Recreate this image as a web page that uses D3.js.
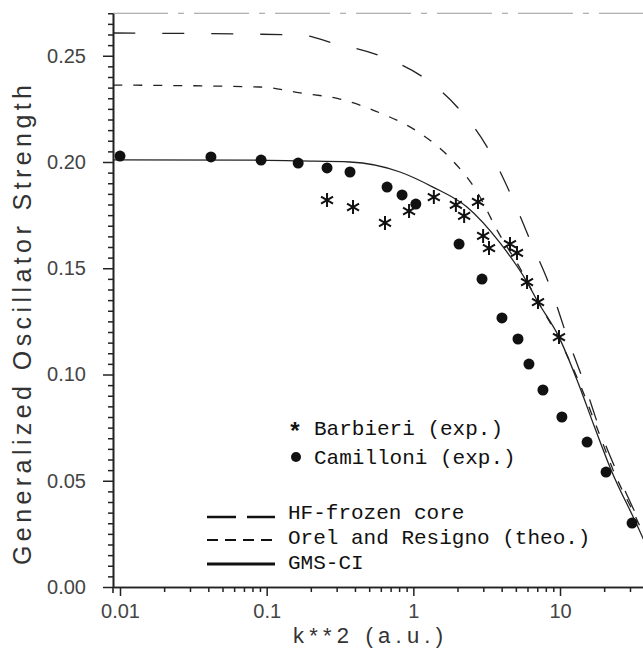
<!DOCTYPE html>
<html>
<head>
<meta charset="utf-8">
<script src="https://cdn.jsdelivr.net/npm/d3@7"></script>
<style>
  body { margin: 0; background: #fff; }
  svg { display: block; }
</style>
</head>
<body>
<div id="chart"></div>
<script>
// Camilloni (exp.) points
const kCamilloni = [0.01, 0.0417, 0.0916, 0.164, 0.258, 0.37, 0.662, 0.838, 1.04, 2.05, 2.94, 4.02, 5.17, 6.14, 7.65, 10.3, 15.3, 20.6, 31.0]
const fCamilloni = [0.2028, 0.2024, 0.2009, 0.1995, 0.1972, 0.1953, 0.1882, 0.1845, 0.1802, 0.1614, 0.1449, 0.1266, 0.1167, 0.1049, 0.0927, 0.0800, 0.0682, 0.0541, 0.0301]

// Barbieri (exp.) points
const kBarbieri = [0.258, 0.388, 0.641, 0.935, 1.38, 1.95, 2.22, 2.76, 2.99, 3.28, 4.56, 5.09, 5.96, 7.08, 9.84]
const fBarbieri = [0.1821, 0.1788, 0.1713, 0.1769, 0.1835, 0.1798, 0.1746, 0.1812, 0.1652, 0.1595, 0.1614, 0.1572, 0.1435, 0.1341, 0.1176]

// theory curves
const kHF = [0.009, 0.169, 0.283, 0.621, 1.24, 1.99, 3.18, 4.56, 6.24, 8.68, 11.2, 14.6, 18.7, 24.9, 35.1, 39.8]
const fHF = [0.2607, 0.2598, 0.2560, 0.2494, 0.2386, 0.2259, 0.2071, 0.1855, 0.1634, 0.1402, 0.1176, 0.0960, 0.0739, 0.0527, 0.0301, 0.0221]

const kOrel = [0.009, 0.0901, 0.169, 0.316, 0.593, 1.08, 1.78, 2.72, 3.78, 5.33, 6.96, 9.53, 13.3, 17.9, 23.0, 34.0, 39.8]
const fOrel = [0.2362, 0.2353, 0.2325, 0.2296, 0.2231, 0.2141, 0.2019, 0.1859, 0.1671, 0.1501, 0.1351, 0.1186, 0.0974, 0.0748, 0.0551, 0.0306, 0.0198]

const kGMS = [0.009, 0.0771, 0.169, 0.37, 0.811, 1.36, 2.32, 3.9, 5.96, 7.08, 9.84, 13.3, 17.3, 22.3, 33.0, 38.6]
const fGMS = [0.2010, 0.2009, 0.2005, 0.2000, 0.1953, 0.1882, 0.1788, 0.1619, 0.1435, 0.1341, 0.1176, 0.0960, 0.0748, 0.0551, 0.0301, 0.0198]

// ticks
const xMajor = [0.01, 0.1, 1, 10]
const xMajorLabels = ['0.01', '0.1', '1', '10']
const xMinor = [0.02, 0.03, 0.04, 0.05, 0.06, 0.07, 0.08, 0.09,
                0.2, 0.3, 0.4, 0.5, 0.6, 0.7, 0.8, 0.9,
                2, 3, 4, 5, 6, 7, 8, 9, 20, 30]
const yMajor = [0, 0.05, 0.10, 0.15, 0.20, 0.25]
const yMajorLabels = ['0.00', '0.05', '0.10', '0.15', '0.20', '0.25']
const yMinor = d3.range(1, 55).map(i => +(i * 0.005).toFixed(3)).filter(v => Math.round(v * 1000) % 50 !== 0)

const width = 643
const height = 648

const svg = d3.select('#chart')
  .append('svg')
  .attr('width', width)
  .attr('height', height)

svg.append('rect').attr('width', width).attr('height', height).attr('fill', '#fff')

const x = d3.scaleLog()
  .domain([0.00896, 36.8])
  .range([113, 643])

const y = d3.scaleLinear()
  .domain([0, 0.27])
  .range([587, 13.25])

svg.append('clipPath')
  .attr('id', 'plot')
  .append('rect')
  .attr('x', 113).attr('y', 0)
  .attr('width', 540).attr('height', 587)

// top frame line (faint)
svg.append('line')
  .attr('x1', 113).attr('x2', 643)
  .attr('y1', y(0.27)).attr('y2', y(0.27))
  .attr('stroke', '#9a9a9a')
  .attr('stroke-width', 1.2)
  .attr('stroke-dasharray', '55,10,6,10')

// x axis
const xMinorAxis = d3.axisBottom(x).tickValues(xMinor).tickSize(5).tickSizeOuter(0).tickFormat('')
const xMajorAxis = d3.axisBottom(x).tickValues(xMajor).tickSize(9).tickSizeOuter(0).tickPadding(8)
  .tickFormat((d, i) => xMajorLabels[i])

svg.append('g').attr('transform', 'translate(0,587)').call(xMinorAxis)
svg.append('g').attr('class', 'major').attr('transform', 'translate(0,587)').call(xMajorAxis)

// y axis
const yMinorAxis = d3.axisLeft(y).tickValues(yMinor).tickSize(5).tickSizeOuter(0).tickFormat('')
const yMajorAxis = d3.axisLeft(y).tickValues(yMajor).tickSize(10).tickSizeOuter(0).tickPadding(17)
  .tickFormat((d, i) => yMajorLabels[i])

svg.append('g').attr('transform', 'translate(113,0)').call(yMinorAxis)
svg.append('g').attr('class', 'major').attr('transform', 'translate(113,0)').call(yMajorAxis)

svg.selectAll('.domain').attr('stroke', '#222').attr('stroke-width', 1.6)
svg.selectAll('.tick line').attr('stroke', '#222').attr('stroke-width', 1.5)
svg.selectAll('.major text')
   .attr('fill', '#444')
   .style('font-family', 'Liberation Sans, Arial, sans-serif')
   .style('font-size', '20px')

// y axis extends a bit below x axis
svg.append('line')
  .attr('x1', 113).attr('x2', 113)
  .attr('y1', 587).attr('y2', 593)
  .attr('stroke', '#222').attr('stroke-width', 1.6)

// axis titles
svg.append('text')
   .attr('transform', 'translate(31,325) rotate(-90)')
   .attr('text-anchor', 'middle')
   .attr('textLength', 480)
   .attr('lengthAdjust', 'spacing')
   .attr('fill', '#333')
   .style('font-family', 'Liberation Sans, Arial, sans-serif')
   .style('font-size', '25px')
   .text('Generalized Oscillator Strength')

svg.append('text')
   .attr('x', 368)
   .attr('y', 643)
   .attr('text-anchor', 'middle')
   .attr('textLength', 150)
   .attr('lengthAdjust', 'spacing')
   .attr('fill', '#333')
   .style('font-family', 'Liberation Sans, Arial, sans-serif')
   .style('font-size', '22px')
   .text('k**2 (a.u.)')

// curves
const line = d3.line()
  .x(d => x(d[0]))
  .y(d => y(d[1]))
  .curve(d3.curveMonotoneX)

const curves = [
  { k: kHF, f: fHF, dash: '22,27' },
  { k: kOrel, f: fOrel, dash: '9,11' },
  { k: kGMS, f: fGMS, dash: null }
]

const plot = svg.append('g').attr('clip-path', 'url(#plot)')

curves.forEach(c => {
  plot.append('path')
      .datum(c.k.map((k, i) => [k, c.f[i]]))
      .attr('d', line)
      .attr('fill', 'none')
      .attr('stroke', '#222')
      .attr('stroke-width', 1.3)
      .attr('stroke-dasharray', c.dash)
})

// Camilloni dots
plot.selectAll('circle.cam')
    .data(kCamilloni)
    .enter()
    .append('circle')
    .attr('class', 'cam')
    .attr('cx', d => x(d))
    .attr('cy', (d, i) => y(fCamilloni[i]))
    .attr('r', 5.5)
    .attr('fill', '#111')

// Barbieri asterisks
const star = 'M0,-7L0,7M-6,-3.5L6,3.5M-6,3.5L6,-3.5'
plot.selectAll('path.bar')
    .data(kBarbieri)
    .enter()
    .append('path')
    .attr('class', 'bar')
    .attr('transform', (d, i) => 'translate(' + x(d) + ',' + y(fBarbieri[i]) + ')')
    .attr('d', star)
    .attr('stroke', '#111')
    .attr('stroke-width', 2)
    .attr('fill', 'none')

// legend
const legendFont = 'Liberation Mono, Courier New, monospace'

svg.append('text')
   .attr('x', 295).attr('y', 440)
   .attr('text-anchor', 'middle')
   .style('font-family', legendFont).style('font-size', '24px')
   .style('font-weight', 'bold')
   .attr('fill', '#111')
   .text('*')

svg.append('circle')
   .attr('cx', 296).attr('cy', 457).attr('r', 5)
   .attr('fill', '#111')

const legendText = [
  { t: 'Barbieri (exp.)', x: 314, y: 435 },
  { t: 'Camilloni (exp.)', x: 314, y: 464 },
  { t: 'HF-frozen core', x: 288, y: 519 },
  { t: 'Orel and Resigno (theo.)', x: 288, y: 544 },
  { t: 'GMS-CI', x: 288, y: 569 }
]

svg.selectAll('text.legend')
   .data(legendText)
   .enter()
   .append('text')
   .attr('class', 'legend')
   .attr('x', d => d.x)
   .attr('y', d => d.y)
   .attr('fill', '#111')
   .style('font-family', legendFont)
   .style('font-size', '21px')
   .text(d => d.t)

const legendLines = [
  { y: 517, dash: '29,11', w: 2.5 },
  { y: 540, dash: '11,7', w: 2.2 },
  { y: 564, dash: null, w: 3 }
]

svg.selectAll('line.legend')
   .data(legendLines)
   .enter()
   .append('line')
   .attr('class', 'legend')
   .attr('x1', 207).attr('x2', 275)
   .attr('y1', d => d.y).attr('y2', d => d.y)
   .attr('stroke', '#111')
   .attr('stroke-width', d => d.w)
   .attr('stroke-dasharray', d => d.dash)
</script>
</body>
</html>
